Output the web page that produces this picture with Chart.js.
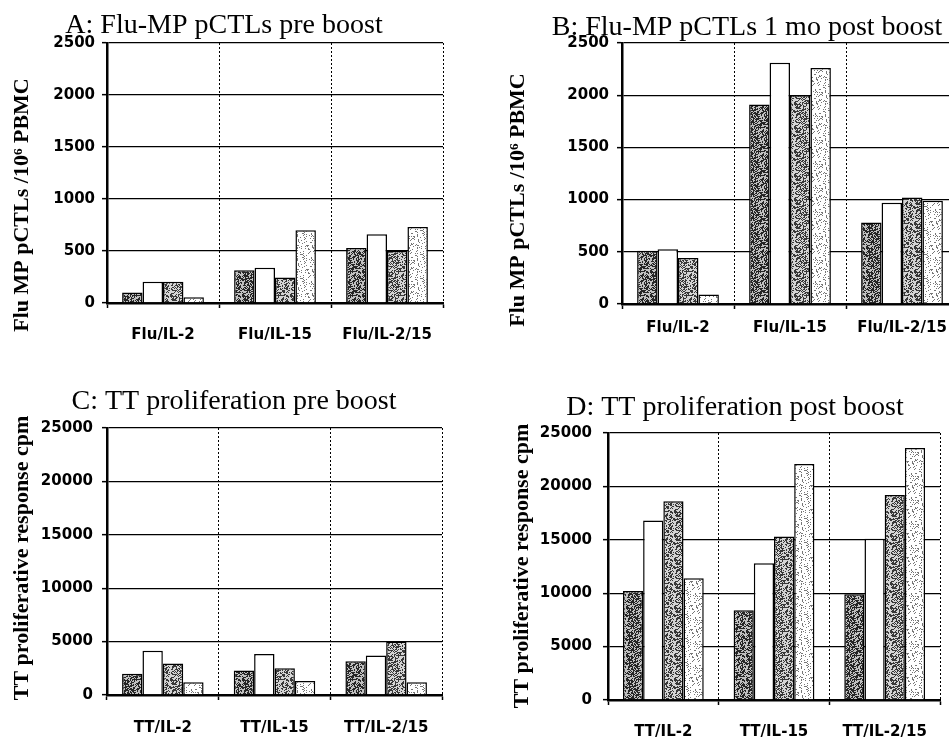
<!DOCTYPE html>
<html>
<head>
<meta charset="utf-8">
<script src="https://cdn.jsdelivr.net/npm/chart.js@4.4.1/dist/chart.umd.min.js"></script>
<style>
  html, body { margin: 0; padding: 0; background: #fff; width: 949px; height: 740px; overflow: hidden; position: relative; }
  canvas { position: absolute; left: 0; top: 0; }
</style>
</head>
<body>
<canvas id="chartA" width="980" height="740"></canvas>
<canvas id="chartB" width="980" height="740"></canvas>
<canvas id="chartC" width="980" height="740"></canvas>
<canvas id="chartD" width="980" height="740"></canvas>
<script>
// Categories and tick labels
const fluCategories = ['Flu/IL-2', 'Flu/IL-15', 'Flu/IL-2/15'];
const ttCategories = ['TT/IL-2', 'TT/IL-15', 'TT/IL-2/15'];
const fluTicks = [0, 500, 1000, 1500, 2000, 2500];
const ttTicks = [0, 5000, 10000, 15000, 20000, 25000];

// A: Flu-MP pCTLs pre boost
const preFlu1 = [100, 315, 530];
const preFlu2 = [205, 340, 660];
const preFlu3 = [205, 245, 500];
const preFlu4 = [55, 700, 730];

// B: Flu-MP pCTLs 1 mo post boost
const postFlu1 = [510, 1910, 780];
const postFlu2 = [525, 2310, 970];
const postFlu3 = [440, 2000, 1020];
const postFlu4 = [90, 2260, 990];

// C: TT proliferation pre boost
const preTT1 = [2000, 2300, 3150];
const preTT2 = [4150, 3850, 3700];
const preTT3 = [2950, 2500, 5000];
const preTT4 = [1200, 1300, 1200];

// D: TT proliferation post boost
const postTT1 = [10200, 8400, 9900];
const postTT2 = [16800, 12800, 15100];
const postTT3 = [18600, 15300, 19200];
const postTT4 = [11400, 22100, 23600];

// Stippled fills like the scanned figure
function stipple(base, dot, frac) {
    const c = document.createElement('canvas');
    c.width = c.height = 24;
    const g = c.getContext('2d');
    g.fillStyle = base;
    g.fillRect(0, 0, 24, 24);
    g.fillStyle = dot;
    for (let y = 0; y < 24; y++) {
        for (let x = 0; x < 24; x++) {
            const h = Math.abs(Math.sin(x * 12.9898 + y * 78.233) * 43758.5453) % 1;
            if (h < frac) g.fillRect(x, y, 1, 1);
        }
    }
    return g.createPattern(c, 'repeat');
}
const fills = [
    stipple('#262626', '#c0c0c0', 0.42),
    '#ffffff',
    stipple('#383838', '#d4d4d4', 0.5),
    stipple('#ffffff', '#777777', 0.13)
];

// Draws panel title and rotated y-axis title
const panelText = {
    id: 'panelText',
    afterDraw(chart, args, opts) {
        const ctx = chart.ctx;
        ctx.save();
        ctx.fillStyle = '#000';
        ctx.font = '28px "Liberation Serif", "Times New Roman", serif';
        ctx.textAlign = 'center';
        ctx.textBaseline = 'alphabetic';
        ctx.fillText(opts.title, opts.tx, opts.ty);
        ctx.translate(opts.yx, opts.yy);
        ctx.rotate(-Math.PI / 2);
        ctx.font = 'bold 22px "Liberation Serif", "Times New Roman", serif';
        ctx.textBaseline = 'middle';
        ctx.fillText(opts.ytitle, 0, 0);
        ctx.restore();
    }
};

function makePanel(id, cats, series, ticks, box, text) {
    const yWidth = 100, xHeight = 50;
    new Chart(document.getElementById(id), {
        type: 'bar',
        data: {
            labels: cats,
            datasets: series.map((s, i) => ({
                label: 'Series ' + (i + 1),
                data: s,
                backgroundColor: fills[i],
                borderColor: '#000',
                borderWidth: 1.5,
                categoryPercentage: 0.73,
                barPercentage: 1.0
            }))
        },
        options: {
            responsive: false,
            animation: false,
            events: [],
            layout: {
                padding: {
                    left: box.l - yWidth,
                    top: box.t,
                    right: 980 - box.r,
                    bottom: 740 - box.b - xHeight
                }
            },
            plugins: {
                legend: { display: false },
                tooltip: { enabled: false },
                panelText: text
            },
            scales: {
                x: {
                    afterFit: s => { s.height = xHeight; },
                    grid: {
                        color: '#000',
                        lineWidth: 1,
                        tickLength: 5,
                        tickColor: '#000',
                        tickWidth: 1.5
                    },
                    border: { color: '#000', width: 2.5, dash: [2, 2] },
                    ticks: {
                        color: '#000',
                        padding: text.xPad,
                        font: { family: '"DejaVu Sans", Arial, sans-serif', size: 15, weight: 'bold' }
                    }
                },
                y: {
                    min: ticks[0],
                    max: ticks[ticks.length - 1],
                    afterFit: s => { s.width = yWidth; },
                    afterBuildTicks: s => { s.ticks = ticks.map(v => ({ value: v })); },
                    grid: {
                        color: '#000',
                        lineWidth: 1.3,
                        tickLength: 5,
                        tickWidth: 1.5
                    },
                    border: { color: '#000', width: 2.5 },
                    ticks: {
                        color: '#000',
                        padding: text.yPad,
                        callback: v => String(v),
                        font: { family: '"DejaVu Sans", Arial, sans-serif', size: 15, weight: 'bold' }
                    }
                }
            }
        },
        plugins: [panelText]
    });
}

makePanel('chartA', fluCategories, [preFlu1, preFlu2, preFlu3, preFlu4], fluTicks,
    { l: 107, r: 443, t: 43, b: 303 },
    { title: 'A: Flu-MP pCTLs pre boost', tx: 224, ty: 33,
      ytitle: 'Flu MP pCTLs /10\u2076 PBMC', yx: 22, yy: 205, xPad: 18, yPad: 7 });

makePanel('chartB', fluCategories, [postFlu1, postFlu2, postFlu3, postFlu4], fluTicks,
    { l: 622, r: 958, t: 43, b: 304 },
    { title: 'B: Flu-MP pCTLs 1 mo post boost', tx: 747, ty: 35,
      ytitle: 'Flu MP pCTLs /10\u2076 PBMC', yx: 518, yy: 200, xPad: 10, yPad: 8 });

makePanel('chartC', ttCategories, [preTT1, preTT2, preTT3, preTT4], ttTicks,
    { l: 107, r: 442, t: 428, b: 695 },
    { title: 'C: TT proliferation pre boost', tx: 234, ty: 409,
      ytitle: 'TT proliferative response cpm', yx: 22, yy: 558, xPad: 19, yPad: 9 });

makePanel('chartD', ttCategories, [postTT1, postTT2, postTT3, postTT4], ttTicks,
    { l: 608, r: 940, t: 433, b: 700 },
    { title: 'D: TT proliferation post boost', tx: 735, ty: 415,
      ytitle: 'TT proliferative response cpm', yx: 522, yy: 566, xPad: 18, yPad: 11 });
</script>
</body>
</html>
